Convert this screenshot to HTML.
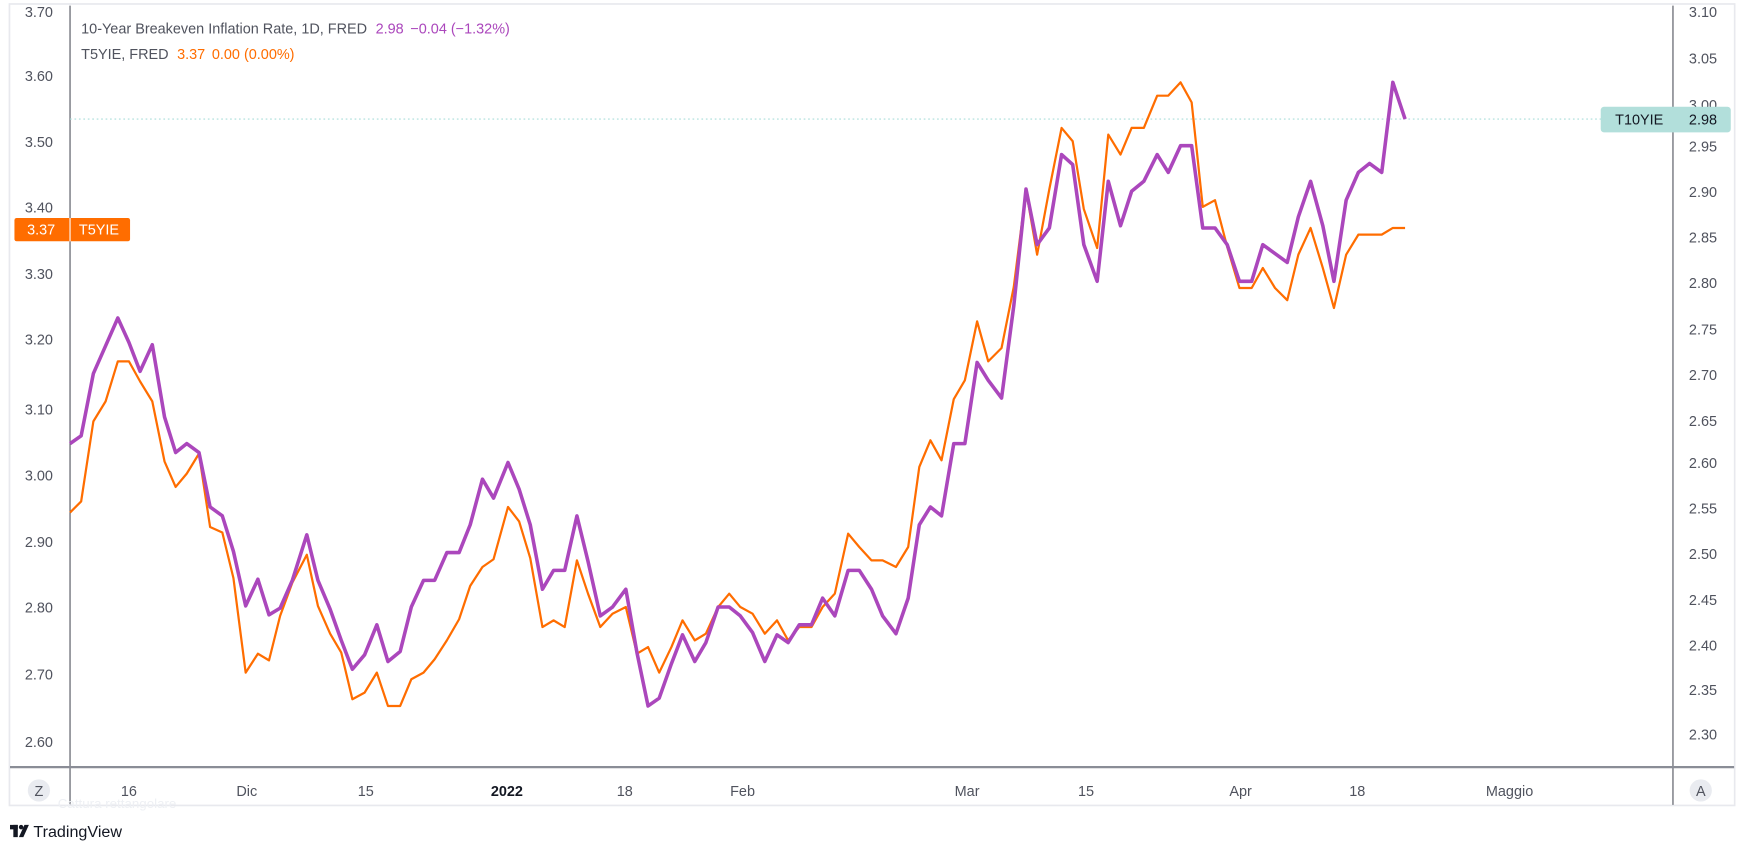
<!DOCTYPE html>
<html><head><meta charset="utf-8"><style>
html,body{margin:0;padding:0;background:#fff;width:1743px;height:855px;overflow:hidden}
svg{display:block}
text{font-family:"Liberation Sans","DejaVu Sans",sans-serif}
</style></head><body>
<svg width="1743" height="855" viewBox="0 0 1568 769" xmlns="http://www.w3.org/2000/svg">
<rect x="0" y="0" width="1568" height="769" fill="#fff"/>
<rect x="8.5" y="3.5" width="1552" height="721" fill="#fff" stroke="#e8e9ee" stroke-width="1.5"/>
<line x1="63" y1="5" x2="63" y2="724" stroke="#50535e" stroke-width="1"/>
<line x1="1505" y1="5" x2="1505" y2="724" stroke="#50535e" stroke-width="1"/>
<line x1="9" y1="690" x2="1560" y2="690" stroke="#8a8d96" stroke-width="2"/>
<line x1="63" y1="107" x2="1445" y2="107" stroke="#a8ddd9" stroke-width="1" stroke-dasharray="1.5,2.5"/>
<g font-size="13" fill="#50535e" text-anchor="middle">
<text x="35" y="15">3.70</text><text x="35" y="73">3.60</text><text x="35" y="132">3.50</text>
<text x="35" y="191">3.40</text><text x="35" y="251">3.30</text><text x="35" y="310">3.20</text>
<text x="35" y="373">3.10</text><text x="35" y="432">3.00</text><text x="35" y="492">2.90</text>
<text x="35" y="551">2.80</text><text x="35" y="611">2.70</text><text x="35" y="672">2.60</text>
<text x="1532" y="15">3.10</text><text x="1532" y="57">3.05</text><text x="1532" y="99">3.00</text>
<text x="1532" y="136">2.95</text><text x="1532" y="177">2.90</text><text x="1532" y="218">2.85</text>
<text x="1532" y="259">2.80</text><text x="1532" y="301">2.75</text><text x="1532" y="342">2.70</text>
<text x="1532" y="383">2.65</text><text x="1532" y="421">2.60</text><text x="1532" y="462">2.55</text>
<text x="1532" y="503">2.50</text><text x="1532" y="544">2.45</text><text x="1532" y="585">2.40</text>
<text x="1532" y="625">2.35</text><text x="1532" y="665">2.30</text>
</g>
<g font-size="13" fill="#50535e" text-anchor="middle">
<text x="116" y="716">16</text><text x="222" y="716">Dic</text><text x="329" y="716">15</text>
<text x="456" y="716" font-weight="bold" fill="#131722">2022</text><text x="562" y="716">18</text>
<text x="668" y="716">Feb</text><text x="870" y="716">Mar</text><text x="977" y="716">15</text>
<text x="1116" y="716">Apr</text><text x="1221" y="716">18</text><text x="1358" y="716">Maggio</text>
</g>
<circle cx="35" cy="711" r="10" fill="#e9ebf0"/><text x="35" y="716" font-size="13" fill="#50535e" text-anchor="middle">Z</text>
<circle cx="1530" cy="711" r="10" fill="#e9ebf0"/><text x="1530" y="716" font-size="13" fill="#50535e" text-anchor="middle">A</text>
<polyline fill="none" stroke="#ff6d00" stroke-width="2" stroke-linejoin="round" points="63,461 73,451 84,379 95,361 106,325 116,325 126,343 137,361 148,415 158,438 168,426 179,408 189,474 200,479 210,520 221,605 232,588 242,594 252,554 263,524 276,499 286,545 297,570 307,587 317,629 328,623 339,605 349,635 360,635 370,611 381,605 391,593 402,576 413,557 423,527 434,510 444,503 457,456 467,469 477,502 488,564 498,558 508,564 519,504 529,534 540,564 551,552 563,546 573,588 583,582 593,605 604,582 614,558 625,576 635,570 646,546 656,534 666,546 677,552 688,570 699,558 709,576 719,564 730,564 740,546 751,534 763,480 773,492 784,504 794,504 806,510 817,492 827,420 837,396 847,414 858,359 868,342 879,289 889,325 901,313 912,258 923,171 933,229 944,170 955,115 965,127 975,188 987,223 997,121 1008,139 1018,115 1029,115 1041,86 1051,86 1062,74 1072,92 1082,186 1093,180 1104,222 1115,259 1126,259 1136,241 1147,259 1158,270 1168,229 1179,205 1190,241 1200,277 1211,229 1222,211 1232,211 1243,211 1253,205 1264,205"/>
<polyline fill="none" stroke="#ab47bc" stroke-width="3.2" stroke-linejoin="round" points="63,399 73,392 84,336 95,311 106,286 116,308 126,334 137,310 148,375 158,407 168,399 179,407 189,456 200,464 210,496 221,545 232,521 242,553 252,547 263,522 276,481 286,522 297,548 307,576 317,602 328,589 339,562 349,595 360,586 370,546 381,522 391,522 402,497 413,497 423,472 434,431 444,448 457,416 467,440 477,472 488,530 498,513 508,513 519,464 529,505 540,554 551,546 563,530 573,587 583,635 593,628 604,597 614,571 625,595 635,578 646,546 656,546 666,554 677,569 688,595 699,571 709,578 719,562 730,562 740,538 751,554 763,513 773,513 784,530 794,554 806,570 817,538 827,472 837,456 847,464 858,399 868,399 879,326 889,342 901,358 912,275 923,170 933,220 944,205 955,139 965,148 975,220 987,253 997,163 1008,203 1018,172 1029,163 1041,139 1051,155 1062,131 1072,131 1082,205 1093,205 1104,220 1115,253 1126,253 1136,220 1147,228 1158,236 1168,195 1179,163 1190,203 1200,253 1211,180 1222,155 1232,147 1243,155 1253,74 1264,107"/>
<rect x="1440" y="96" width="117" height="23" rx="3" fill="#b2dfdb"/>
<text x="1453" y="112" font-size="13" fill="#131722">T10YIE</text>
<text x="1532" y="112" font-size="13" fill="#131722" text-anchor="middle">2.98</text>
<rect x="13" y="196" width="104" height="21" rx="2" fill="#ff6d00"/>
<line x1="63" y1="196" x2="63" y2="217" stroke="#fff" stroke-width="1"/>
<text x="37" y="211" font-size="13" fill="#fff" text-anchor="middle">3.37</text>
<text x="71" y="211" font-size="13" fill="#fff">T5YIE</text>
<text x="73" y="30" font-size="13" fill="#50535e">10-Year Breakeven Inflation Rate, 1D, FRED <tspan fill="#ab47bc" dx="4">2.98</tspan><tspan fill="#ab47bc" dx="6">−0.04 (−1.32%)</tspan></text>
<text x="73" y="53" font-size="13" fill="#50535e">T5YIE, FRED <tspan fill="#ff6d00" dx="4">3.37</tspan><tspan fill="#ff6d00" dx="6">0.00 (0.00%)</tspan></text>
<text x="52" y="727" font-size="12" fill="#eef0f4">Cattura rettangolare</text>
<g transform="translate(9,742)" fill="#131722">
<rect x="0" y="0" width="7" height="4"/><rect x="3" y="0" width="4" height="11"/>
<circle cx="10" cy="2" r="2"/><path d="M13 0 L17 0 L12 11 L8 11 Z"/>
</g>
<text x="30" y="753" font-size="14.5" fill="#131722">TradingView</text>
</svg>
</body></html>
